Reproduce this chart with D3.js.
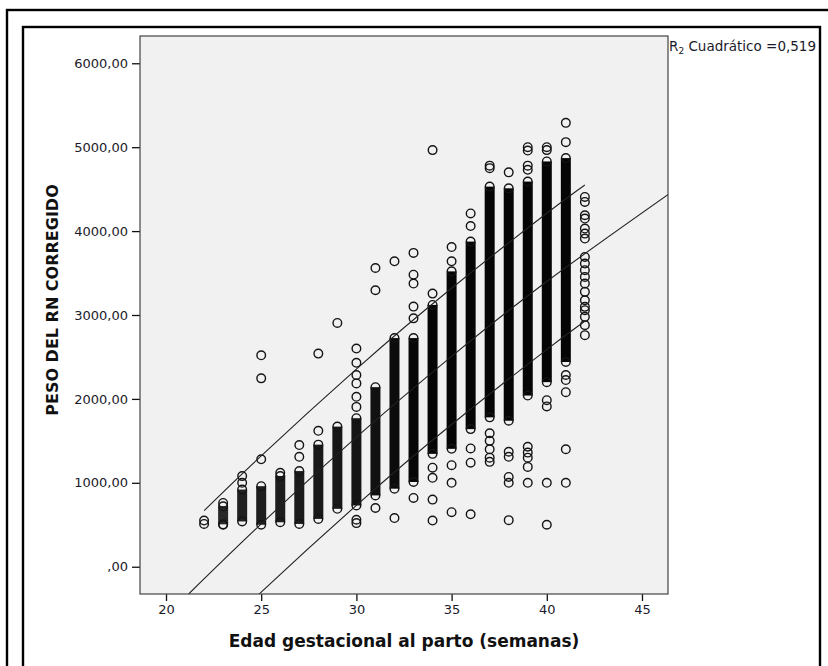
<!doctype html>
<html>
<head>
<meta charset="utf-8">
<style>
	body { margin: 0; background: #fff; }
	text { font-family: "DejaVu Sans", sans-serif; }
</style>
</head>
<body>
	<div class="figure"></div>

	<script src="https://d3js.org/d3.v7.min.js"></script>
	<script>
		// gestational weeks (one column of cases per week)
		const weeks     = [22, 23, 24, 25, 26, 27, 28, 29, 30, 31, 32, 33, 34, 35, 36, 37, 38, 39, 40, 41, 42];
		// solid part of each column (grams), null where there is none
		const bandLow   = [null, 505, 540, 500, 530, 510, 570, 690, 730, 850, 930, 1010, 1345, 1405, 1640, 1780, 1740, 2040, 2200, 2440, null];
		const bandHigh  = [null, 720, 920, 960, 1080, 1140, 1455, 1670, 1770, 2140, 2725, 2725, 3120, 3520, 3875, 4530, 4510, 4590, 4830, 4870, null];
		// rough number of cases per week (only for the darkness of the column)
		const caseCount = [2, 15, 30, 40, 40, 50, 60, 70, 80, 120, 180, 250, 400, 600, 900, 1500, 2500, 3500, 4500, 3000, 20];
		// isolated points per week
		const singles = [
			[510, 550],
			[500, 760],
			[1080, 1000],
			[2520, 2245, 1280],
			[1120],
			[1450, 1310],
			[2540, 1620],
			[2905],
			[2600, 2430, 2285, 2185, 2025, 1905, 560, 520],
			[3560, 3295, 700],
			[3640, 580],
			[3740, 3480, 3375, 3100, 2960, 820],
			[4965, 3255, 1180, 1060, 800, 550],
			[3810, 3640, 1210, 1000, 650],
			[4210, 4060, 1410, 1240, 625],
			[4780, 4750, 1590, 1500, 1400, 1300, 1250],
			[4700, 1370, 1310, 1070, 1000, 555],
			[5000, 4960, 4780, 4730, 1430, 1360, 1300, 1190, 1000],
			[5000, 4965, 1985, 1910, 1000, 500],
			[5290, 5060, 2285, 2225, 2080, 1400, 1000],
			[4407, 4347, 4189, 4149, 4030, 3970, 3911, 3692, 3613, 3534, 3454, 3375, 3276, 3176, 3097, 3057, 2978, 2879, 2760]
		];

		// quadratic fit line and its interval lines
		const meanX     = [21.19, 25, 30, 35, 40, 46.38];
		const meanY     = [-325, 510, 1544, 2507, 3400, 4436];
		const intX      = [22, 25, 30, 35, 40, 42];
		const upperY    = [668, 1322, 2356, 3319, 4212, 4549];
		const lowerY    = [-956, -302, 732, 1695, 2588, 2925];

		const xTicks = [20, 25, 30, 35, 40, 45];
		const yTicks = [0, 1000, 2000, 3000, 4000, 5000, 6000];
		const fmtY = v => v === 0 ? ",00" : v + ",00";

		const W = 828, H = 666;
		const plot = { left: 140, top: 36, right: 668, bottom: 594 };

		let svg = d3.select(".figure")
			.append("svg")
			.attr("width", W)
			.attr("height", H)
			.style("display", "block");

		// frames
		svg.append("rect").attr("x", 7).attr("y", 10).attr("width", 900).attr("height", 900)
			.attr("fill", "none").attr("stroke", "#000").attr("stroke-width", 2.4);
		svg.append("rect").attr("x", 23).attr("y", 27).attr("width", 797).attr("height", 900)
			.attr("fill", "none").attr("stroke", "#000").attr("stroke-width", 2.4);

		let x = d3.scaleLinear().domain([18.634, 46.366]).range([plot.left, plot.right]);
		let y = d3.scaleLinear().domain([-325, 6325]).range([plot.bottom, plot.top]);

		svg.append("defs").append("clipPath").attr("id", "clip")
			.append("rect").attr("x", plot.left).attr("y", plot.top)
			.attr("width", plot.right - plot.left).attr("height", plot.bottom - plot.top);

		svg.append("rect")
			.attr("x", plot.left).attr("y", plot.top)
			.attr("width", plot.right - plot.left).attr("height", plot.bottom - plot.top)
			.attr("fill", "#f1f1f1");

		// axes
		let xAxis = svg.append("g")
			.attr("transform", `translate(0,${plot.bottom})`)
			.call(d3.axisBottom(x).tickValues(xTicks).tickSize(7).tickPadding(4).tickFormat(d3.format("d")));
		let yAxis = svg.append("g")
			.attr("transform", `translate(${plot.left},0)`)
			.call(d3.axisLeft(y).tickValues(yTicks).tickSize(8).tickPadding(4).tickFormat(fmtY));
		[xAxis, yAxis].forEach(a => {
			a.select(".domain").remove();
			a.selectAll("line").attr("stroke", "#111").attr("stroke-width", 1.3);
			a.selectAll("text").attr("fill", "#1a1a2a").style("font-size", "13px")
				.style("font-family", "'DejaVu Sans', sans-serif");
		});

		let g = svg.append("g").attr("clip-path", "url(#clip)");

		// dense part of each column
		const R = 4.3, SW = 1.4;
		const colW = 2 * R + SW;
		let shade = d3.scaleLog().domain([15, 300]).range([0.85, 1]).clamp(true);
		let bands = weeks.map((w, i) => ({ week: w, lo: bandLow[i], hi: bandHigh[i], n: caseCount[i] }))
			.filter(d => d.lo !== null);
		g.selectAll("rect.band").data(bands).join("rect")
			.attr("class", "band")
			.attr("x", d => x(d.week) - colW / 2)
			.attr("y", d => y(d.hi))
			.attr("width", colW)
			.attr("height", d => y(d.lo) - y(d.hi))
			.attr("fill", "#050505")
			.attr("fill-opacity", d => shade(d.n));

		// isolated cases, plus the end circles of each solid column
		let pts = [];
		weeks.forEach((w, i) => singles[i].forEach(v => pts.push({ week: w, v: v })));
		bands.forEach(d => { pts.push({ week: d.week, v: d.hi }); pts.push({ week: d.week, v: d.lo }); });
		g.selectAll("circle.pt").data(pts).join("circle")
			.attr("class", "pt")
			.attr("cx", d => x(d.week))
			.attr("cy", d => y(d.v))
			.attr("r", R)
			.attr("fill", "none")
			.attr("stroke", "#141414")
			.attr("stroke-width", SW);

		// fit line + interval lines
		let line = d3.line().x(d => x(d[0])).y(d => y(d[1])).curve(d3.curveNatural);
		[[meanX, meanY], [intX, upperY], [intX, lowerY]].forEach(([xs, ys]) => {
			g.append("path")
				.attr("d", line(xs.map((v, i) => [v, ys[i]])))
				.attr("fill", "none")
				.attr("stroke", "#222")
				.attr("stroke-width", 1.1);
		});

		// plot border
		svg.append("rect")
			.attr("x", plot.left).attr("y", plot.top)
			.attr("width", plot.right - plot.left).attr("height", plot.bottom - plot.top)
			.attr("fill", "none").attr("stroke", "#444").attr("stroke-width", 1.2);

		// titles
		svg.append("text")
			.attr("x", (plot.left + plot.right) / 2)
			.attr("y", 647)
			.attr("text-anchor", "middle")
			.style("font-size", "17px").style("font-weight", "bold")
			.attr("fill", "#111")
			.text("Edad gestacional al parto (semanas)");

		svg.append("text")
			.attr("transform", "translate(58,300) rotate(-90)")
			.attr("text-anchor", "middle")
			.style("font-size", "16px").style("font-weight", "bold")
			.attr("fill", "#111")
			.text("PESO DEL RN CORREGIDO");

		let r2 = svg.append("text")
			.attr("x", 669).attr("y", 51)
			.style("font-size", "13.5px")
			.attr("fill", "#1a1a2a");
		r2.append("tspan").text("R");
		r2.append("tspan").attr("dy", 3).style("font-size", "9px").text("2");
		r2.append("tspan").attr("dy", -3).text(" Cuadrático =0,519");
	</script>
</body>
</html>
